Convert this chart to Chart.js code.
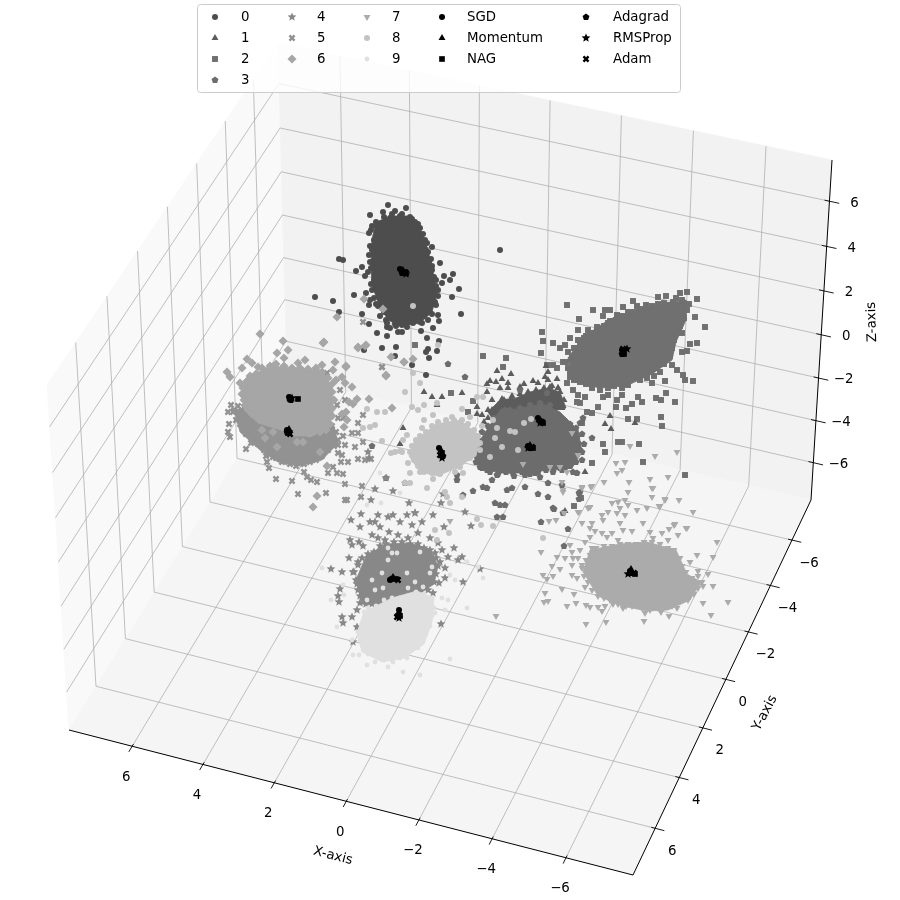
<!DOCTYPE html>
<html>
<head>
<meta charset="utf-8">
<title>Optimizers on clusters</title>
<script src="https://cdn.jsdelivr.net/npm/chart.js@4/dist/chart.umd.min.js"></script>
<style>
body { margin: 0; background: #fff; }
canvas { display: block; }
</style>
</head>
<body>
<canvas id="grafico" width="900" height="900"></canvas>
<script>
const xTicks = [6, 4, 2, 0, -2, -4, -6]
const yTicks = [-6, -4, -2, 0, 2, 4, 6]
const zTicks = [6, 4, 2, 0, -2, -4, -6]

const class0 = [[388,205],[406,208],[395,211],[383,212],[370,215],[418,224],[423,234],[369,233],[377,236],[370,246],[432,247],[427,243],[369,255],[440,263],[431,259],[339,259],[343,260],[362,267],[356,271],[371,268],[378,267],[365,276],[444,276],[453,274],[450,280],[442,283],[434,277],[459,289],[452,297],[438,296],[354,295],[315,297],[333,301],[339,312],[370,300],[369,305],[366,293],[435,302],[429,308],[461,314],[438,315],[439,321],[362,314],[380,316],[369,324],[387,323],[387,327],[407,327],[413,323],[422,323],[433,328],[421,331],[377,333],[387,336],[398,332],[402,332],[427,338],[439,341],[437,351],[428,349],[426,352],[429,358],[382,348],[396,347],[364,350],[395,356],[412,365],[426,375],[500,250],[380,225],[390,218],[400,216],[412,219],[372,226],[375,252],[372,262],[374,280],[372,290],[376,304],[384,312],[425,240],[428,252],[432,270],[436,286],[432,300],[405,323],[395,324]]
const borda0 = [[376,222],[384,217],[392,214],[402,214],[410,217],[415,222],[381,228],[388,224],[405,220],[420,228],[418,236],[424,245],[426,250],[429,262],[432,266],[431,278],[436,280],[438,290],[436,305],[432,314],[428,320],[424,316],[420,322],[414,318],[408,322],[402,325],[396,326],[390,328],[386,320],[382,308],[378,306],[374,298],[371,284],[368,272],[370,262],[372,250],[374,240],[371,230],[377,226]]
const class1 = [[497,371],[511,374],[487,384],[490,381],[496,382],[502,379],[508,383],[524,384],[533,381],[538,383],[548,372],[546,366],[500,388],[508,388],[520,387],[487,392],[548,380],[558,388],[424,392],[432,397],[437,405],[442,397],[462,393],[477,407],[477,414],[482,415],[492,400],[502,399],[511,399],[488,410],[497,415],[507,407],[403,428],[585,472],[610,416],[605,424],[611,429],[635,423],[557,379],[558,388],[545,377],[550,387],[400,444],[565,511]]
const borda1 = [[492,410],[498,405],[504,400],[512,396],[520,394],[528,392],[536,390],[544,388],[552,386],[560,392],[564,400],[562,408],[556,402],[546,398],[536,400],[526,402],[516,404],[488,418],[484,422]]
const class2 = [[567,305],[593,310],[579,319],[605,310],[610,310],[603,316],[578,330],[542,332],[543,341],[553,343],[560,348],[565,345],[570,338],[584,338],[588,330],[597,327],[608,323],[617,315],[623,307],[633,301],[637,306],[646,305],[658,297],[666,296],[680,293],[687,292],[697,299],[689,304],[683,305],[673,302],[695,317],[705,327],[690,344],[697,343],[682,352],[687,351],[682,333],[667,348],[677,370],[683,375],[685,380],[693,381],[665,381],[672,365],[657,368],[652,383],[647,378],[666,393],[675,402],[656,398],[661,400],[661,417],[662,426],[628,419],[637,419],[626,408],[632,404],[642,402],[638,397],[616,407],[617,400],[608,395],[622,395],[603,397],[598,407],[585,397],[578,395],[573,390],[567,383],[570,377],[568,368],[572,358],[557,368],[563,362],[547,365],[553,365],[580,403],[577,402],[587,412],[592,413],[582,423],[685,475],[643,462],[639,444],[622,442],[618,442],[603,444],[605,452],[415,345],[483,356],[506,358],[503,367],[451,393],[473,401],[468,412],[541,353],[592,463],[581,498],[574,506]]
const borda2 = [[575,348],[580,342],[586,336],[592,333],[598,330],[604,326],[610,321],[616,320],[622,316],[628,312],[634,312],[640,309],[646,310],[652,306],[658,304],[664,303],[670,305],[676,298],[682,300],[687,310],[684,318],[680,326],[676,332],[674,340],[672,348],[670,356],[664,364],[660,372],[654,376],[646,372],[640,380],[634,376],[628,385],[622,388],[614,386],[608,388],[600,390],[592,388],[586,384],[580,382],[574,380],[570,372],[566,362],[568,352],[574,348],[578,340]]
const class3 = [[448,364],[465,377],[497,475],[492,480],[512,488],[507,490],[525,487],[513,473],[538,494],[548,497],[553,508],[563,513],[580,492],[579,499],[473,491],[463,495],[457,475],[457,480],[487,488],[483,487],[495,503],[500,505],[505,505],[497,517],[503,517],[577,473],[592,438],[580,423],[583,418],[565,468],[540,477],[525,475],[535,473],[560,468],[553,472],[487,470],[480,467],[477,457],[473,453],[577,437],[578,443],[580,450],[582,460],[573,472],[554,509],[562,485],[579,493],[568,529],[564,546],[541,522],[548,483],[372,446],[386,478],[405,483],[520,390],[547,393],[540,403],[505,410],[495,420],[530,405],[550,405],[565,425]]
const borda3 = [[472,448],[470,456],[476,462],[482,468],[490,472],[498,474],[506,472],[514,476],[522,472],[530,474],[538,472],[546,470],[554,468],[562,470],[570,466],[576,462],[582,452],[584,444],[582,434],[576,428],[570,424],[564,420],[556,414],[548,408],[540,406],[530,408],[520,408],[510,410],[502,412],[494,418],[488,426],[482,432],[478,440],[484,446]]
const class4 = [[351,520],[361,514],[378,515],[360,527],[370,522],[375,522],[380,527],[388,517],[393,515],[400,522],[407,515],[415,513],[412,525],[422,522],[418,533],[433,515],[444,527],[471,526],[389,532],[398,535],[408,538],[372,535],[378,538],[385,540],[350,540],[352,545],[359,542],[363,546],[430,538],[438,543],[442,550],[454,548],[448,557],[462,557],[458,560],[435,553],[440,562],[445,568],[480,569],[349,558],[358,562],[331,569],[342,572],[353,572],[357,584],[340,589],[338,596],[339,602],[362,597],[360,603],[357,610],[342,617],[352,617],[343,623],[357,627],[360,630],[433,593],[439,583],[445,578],[463,582],[441,624],[353,642],[368,645],[386,478],[368,452],[369,458],[393,491],[371,500],[375,489],[409,503],[415,513],[443,494],[441,503],[465,512]]
const borda4 = [[358,565],[362,558],[368,554],[374,552],[380,546],[386,544],[394,542],[402,542],[410,544],[418,544],[424,548],[430,550],[436,558],[438,566],[436,574],[434,582],[428,590],[420,592],[412,596],[404,600],[396,600],[388,604],[380,606],[372,604],[366,604],[360,596],[358,590],[356,580],[354,572]]
const class5 = [[231,405],[228,412],[233,412],[229,424],[228,432],[230,437],[246,449],[251,443],[266,456],[267,462],[269,468],[276,479],[292,481],[298,494],[326,493],[304,472],[307,477],[311,480],[317,482],[328,473],[337,473],[333,467],[341,462],[348,462],[358,459],[365,460],[371,459],[343,474],[345,484],[362,486],[361,497],[345,500],[347,500],[340,390],[337,405],[345,400],[338,418],[343,418],[358,423],[363,415],[358,433],[352,433],[363,442],[343,436],[338,445],[345,445],[355,447],[338,453],[342,455],[382,367],[327,373],[273,457],[288,462],[300,463],[363,322],[382,367]]
const borda5 = [[234,410],[238,406],[244,407],[236,420],[240,424],[246,434],[252,438],[258,444],[264,450],[270,454],[276,458],[282,462],[290,464],[296,466],[304,464],[310,462],[316,460],[322,456],[328,450],[334,446],[338,440],[336,432],[332,426],[240,416],[246,412]]
const class6 = [[260,334],[283,341],[324,342],[346,367],[227,372],[242,368],[247,359],[230,377],[252,363],[258,367],[288,350],[277,353],[284,358],[305,360],[298,363],[322,365],[335,362],[333,370],[342,377],[336,380],[345,383],[352,387],[369,399],[357,399],[349,402],[353,404],[392,408],[346,412],[342,414],[347,420],[344,427],[240,383],[243,395],[358,348],[365,346],[404,362],[386,376],[262,430],[273,432],[265,438],[297,442],[303,442],[277,447],[320,452],[327,466],[317,496],[313,507],[364,299],[383,309],[337,317],[323,343],[358,347],[366,345],[391,357],[413,359],[404,362],[346,366],[386,375]]
const borda6 = [[243,388],[246,382],[250,376],[256,374],[262,368],[270,366],[276,364],[284,366],[292,368],[300,368],[308,369],[316,368],[322,372],[328,378],[332,384],[332,392],[334,400],[332,408],[332,416],[330,424],[326,430],[320,432],[244,400],[242,394],[246,406],[252,414]]
const class7 = [[563,490],[582,488],[592,486],[604,482],[629,482],[652,488],[628,492],[652,497],[612,503],[618,502],[625,500],[628,505],[620,508],[590,507],[588,508],[578,512],[564,513],[617,513],[625,515],[637,510],[647,508],[659,506],[665,500],[679,500],[693,512],[602,515],[608,512],[603,520],[620,523],[582,523],[592,523],[549,521],[556,520],[643,523],[687,528],[675,524],[669,529],[590,528],[595,531],[602,533],[612,533],[623,530],[632,531],[650,532],[662,533],[678,535],[668,540],[653,538],[618,540],[607,537],[590,537],[585,542],[570,545],[580,550],[592,548],[717,542],[713,557],[697,555],[690,562],[572,552],[565,558],[557,557],[573,558],[578,558],[552,566],[560,569],[572,565],[582,565],[572,575],[577,578],[553,576],[543,575],[547,579],[585,587],[562,589],[545,593],[574,594],[544,602],[548,601],[567,606],[576,603],[586,605],[590,607],[598,607],[602,611],[605,606],[613,604],[623,608],[632,606],[645,613],[644,621],[606,622],[586,624],[661,612],[669,616],[677,608],[703,603],[711,615],[728,602],[713,586],[703,586],[708,574],[698,571],[541,552],[630,446],[655,456],[677,452],[616,463],[625,462],[622,470],[617,473],[650,479],[668,477],[653,488],[665,499],[660,506],[686,528],[674,525],[450,521],[496,616],[563,492],[567,472],[562,482],[582,487],[591,487],[590,507],[579,512],[523,464],[572,433],[578,455],[550,467],[560,467]]
const borda7 = [[590,555],[586,560],[582,568],[584,576],[588,582],[592,590],[598,596],[604,598],[610,600],[618,604],[626,606],[634,604],[642,608],[650,610],[658,608],[664,606],[672,606],[680,600],[688,600],[694,594],[698,588],[702,582],[698,576],[692,578],[686,572],[682,566],[680,558],[674,550],[668,548],[660,544],[652,542],[644,542],[636,544],[628,544],[620,544],[612,546],[604,546],[596,548]]
const class8 = [[405,392],[420,383],[412,407],[424,405],[418,410],[437,403],[433,415],[424,420],[422,428],[462,409],[452,417],[448,430],[470,417],[482,426],[477,397],[483,397],[493,420],[497,428],[495,438],[502,447],[490,457],[518,450],[510,431],[515,432],[524,423],[531,419],[407,435],[403,440],[402,452],[408,463],[410,473],[420,472],[432,473],[433,479],[427,488],[410,483],[405,483],[445,492],[447,497],[450,503],[440,473],[463,473],[480,443],[480,450],[473,445],[460,467],[455,472],[462,497],[367,409],[377,412],[385,412],[370,427],[375,425],[363,428],[382,441],[391,453],[395,452],[400,451],[413,306],[438,345],[413,373],[477,519],[481,525],[493,526],[435,530],[449,533],[437,540],[543,538]]
const borda8 = [[416,440],[420,436],[426,432],[432,426],[438,422],[446,420],[454,420],[462,420],[468,424],[474,430],[478,436],[478,444],[474,452],[470,458],[462,462],[456,466],[448,468],[440,474],[432,470],[424,472],[418,466],[414,460],[410,452],[412,446]]
const class9 = [[322,568],[331,600],[337,627],[343,585],[344,595],[352,640],[353,655],[359,655],[367,665],[375,662],[388,667],[393,662],[403,672],[407,658],[418,648],[420,675],[450,659],[435,613],[445,610],[442,598],[448,600],[467,608],[467,562],[483,578],[478,567],[450,575],[455,580],[430,573],[423,587],[397,553],[388,560],[382,573],[375,590],[367,600],[383,588],[388,548],[392,553],[420,552],[432,567],[415,582],[407,573],[408,588],[372,580],[380,473],[367,505],[381,503],[400,493]]
const borda9 = [[364,612],[368,608],[376,606],[384,600],[392,598],[400,598],[408,596],[416,592],[424,594],[432,598],[434,608],[432,616],[430,626],[426,634],[422,642],[414,648],[408,654],[400,658],[392,660],[384,660],[376,656],[368,654],[364,646],[360,640],[358,632],[362,624],[364,618]]

// solid middle of each cloud, where single marks can no longer be told apart
const core0 = [[376,222],[392,216],[408,216],[420,228],[428,250],[433,272],[437,293],[432,312],[420,323],[400,326],[388,320],[379,305],[372,285],[371,262],[372,240]]
const core1 = [[488,412],[500,400],[516,398],[530,392],[548,388],[560,392],[566,408],[540,414],[500,430]]
const core2 = [[586,335],[610,319],[640,309],[667,303],[686,300],[686,320],[676,342],[672,360],[652,374],[626,386],[600,388],[574,382],[568,358],[578,344]]
const core3 = [[498,413],[520,408],[543,404],[560,412],[578,430],[582,452],[572,468],[548,470],[527,473],[500,473],[480,468],[472,453],[484,434]]
const core4 = [[366,556],[386,544],[410,543],[430,549],[438,566],[434,584],[410,600],[382,606],[362,604],[356,580]]
const core5 = [[234,410],[253,406],[283,430],[310,437],[334,426],[338,443],[322,460],[300,466],[278,462],[260,450],[240,432]]
const core6 = [[246,378],[270,366],[297,368],[322,370],[332,388],[333,410],[329,428],[312,436],[293,436],[281,430],[258,423],[244,410],[242,393]]
const core7 = [[590,550],[620,544],[647,542],[676,550],[687,574],[701,582],[690,600],[668,610],[647,611],[622,606],[598,596],[583,572]]
const core8 = [[414,442],[436,424],[460,420],[480,436],[476,456],[458,467],[438,476],[420,472],[409,456]]
const core9 = [[364,612],[392,598],[417,591],[434,598],[432,622],[424,644],[404,658],[382,662],[362,652],[357,633]]

const sgd = [[400,269],[538,418],[622,350],[528,446],[390,580],[287,430],[289,397],[630,571],[439,448],[399,610]]
const momentum = [[403,270],[539,420],[623,352],[530,445],[393,577],[289,429],[290,398],[631,569],[441,450],[399,612]]
const nag = [[405,272],[543,423],[624,354],[533,448],[396,579],[288,433],[298,399],[635,574],[442,453],[400,616]]
const adagrad = [[402,273],[541,421],[622,354],[530,448],[391,579],[287,432],[291,400],[632,573],[443,456],[398,615]]
const rmsprop = [[406,274],[540,423],[627,349],[528,448],[394,579],[289,432],[292,398],[628,574],[442,458],[399,618]]
const adam = [[406,273],[542,422],[623,349],[532,447],[398,580],[290,434],[290,399],[634,573],[440,455],[397,617]]

// pane corners
const cantoA = [69,730], cantoB = [633,875], cantoC = [811,500], cantoD = [287,378]
const topoA = [47,385], topoC = [832,160], topoD = [278,43]
const limite = 7.8

function sprite(forma, cor, lado) {
	let c = document.createElement('canvas')
	c.width = c.height = lado
	let g = c.getContext('2d')
	let m = lado / 2
	g.fillStyle = cor
	g.beginPath()
	if (forma == 'pentagon') {
		for (let i = 0; i < 5; i++) {
			let a = -Math.PI / 2 + i * 2 * Math.PI / 5
			g.lineTo(m + 3.6 * Math.cos(a), m + 3.6 * Math.sin(a))
		}
	}
	if (forma == 'star') {
		for (let i = 0; i < 10; i++) {
			let a = -Math.PI / 2 + i * Math.PI / 5
			let r = i % 2 ? 2.1 : 4.6
			g.lineTo(m + r * Math.cos(a), m + r * Math.sin(a))
		}
	}
	if (forma == 'x') {
		let p = [[-1,-.5],[-.5,-1],[0,-.5],[.5,-1],[1,-.5],[.5,0],[1,.5],[.5,1],[0,.5],[-.5,1],[-1,.5],[-.5,0]]
		p.forEach(q => g.lineTo(m + q[0] * 3.4, m + q[1] * 3.4))
	}
	g.closePath()
	g.fill()
	return c
}

const classes = [
	{ nome: '0', pts: class0.concat(borda0), core: core0, cor: '#4d4d4d', estilo: 'circle', raio: 3 },
	{ nome: '1', pts: class1.concat(borda1), core: core1, cor: '#5c5c5c', estilo: 'triangle', raio: 4 },
	{ nome: '2', pts: class2.concat(borda2), core: core2, cor: '#707070', estilo: 'rect', raio: 4.2 },
	{ nome: '3', pts: class3.concat(borda3), core: core3, cor: '#6c6c6c', estilo: sprite('pentagon', '#6c6c6c', 8), raio: 4 },
	{ nome: '4', pts: class4.concat(borda4), core: core4, cor: '#888888', estilo: sprite('star', '#888888', 10), raio: 5 },
	{ nome: '5', pts: class5.concat(borda5), core: core5, cor: '#929292', estilo: sprite('x', '#929292', 8), raio: 4 },
	{ nome: '6', pts: class6.concat(borda6), core: core6, cor: '#a6a6a6', estilo: 'rectRot', raio: 4.5 },
	{ nome: '7', pts: class7.concat(borda7), core: core7, cor: '#ababab', estilo: 'triangle', raio: 4, giro: 180 },
	{ nome: '8', pts: class8.concat(borda8), core: core8, cor: '#c3c3c3', estilo: 'circle', raio: 3 },
	{ nome: '9', pts: class9.concat(borda9), core: core9, cor: '#e0e0e0', estilo: 'circle', raio: 2.4 }
]
const otimizadores = [
	{ nome: 'SGD', pts: sgd, estilo: 'circle', raio: 3 },
	{ nome: 'Momentum', pts: momentum, estilo: 'triangle', raio: 4 },
	{ nome: 'NAG', pts: nag, estilo: 'rect', raio: 4 },
	{ nome: 'Adagrad', pts: adagrad, estilo: sprite('pentagon', '#000', 8), raio: 4 },
	{ nome: 'RMSProp', pts: rmsprop, estilo: sprite('star', '#000', 10), raio: 5 },
	{ nome: 'Adam', pts: adam, estilo: sprite('x', '#000', 8), raio: 4 }
]
otimizadores.forEach(o => o.cor = '#000')

// maps the unit square on a 4 corner face of the box (perspective)
function face(p00, p10, p11, p01) {
	let dx1 = p10[0] - p11[0], dx2 = p01[0] - p11[0], sx = p00[0] - p10[0] + p11[0] - p01[0]
	let dy1 = p10[1] - p11[1], dy2 = p01[1] - p11[1], sy = p00[1] - p10[1] + p11[1] - p01[1]
	let det = dx1 * dy2 - dx2 * dy1
	let g = (sx * dy2 - dx2 * sy) / det
	let h = (dx1 * sy - sx * dy1) / det
	let a = p10[0] - p00[0] + g * p10[0], b = p01[0] - p00[0] + h * p01[0]
	let d = p10[1] - p00[1] + g * p10[1], e = p01[1] - p00[1] + h * p01[1]
	return (u, v) => {
		let w = g * u + h * v + 1
		return [(a * u + b * v + p00[0]) / w, (d * u + e * v + p00[1]) / w]
	}
}
const piso = face(cantoA, cantoB, cantoC, cantoD)
const esquerda = face(cantoA, cantoD, topoD, topoA)
const fundo = face(cantoD, cantoC, topoC, topoD)

const posX = x => (limite - x) / (2 * limite)
const posY = y => (limite - y) / (2 * limite)
const posZ = z => (z + limite) / (2 * limite)

const xy = lista => lista.map(p => ({ x: p[0], y: p[1] }))

let ds = []

function poligono(pontos, cor) {
	ds.push({ type: 'line', data: xy(pontos.concat([pontos[0]])), fill: 'shape', backgroundColor: cor,
		borderColor: cor, borderWidth: 0.8, pointRadius: 0 })
}
function linha(a, b, cor, largura) {
	ds.push({ type: 'line', data: xy([a, b]), fill: false, borderColor: cor, borderWidth: largura, pointRadius: 0 })
}
function pontos(c) {
	ds.push({ type: 'scatter', data: xy(c.pts), backgroundColor: c.cor, pointStyle: c.estilo, pointRadius: c.raio,
		pointRotation: c.giro || 0, pointBorderWidth: 0, showLine: false })
}

poligono([cantoA, cantoD, topoD, topoA], '#f9f9f9')
poligono([cantoD, cantoC, topoC, topoD], '#f2f2f2')
poligono([cantoA, cantoB, cantoC, cantoD], '#f5f5f5')

const corGrade = '#b0b0b0'
xTicks.forEach(t => {
	linha(piso(posX(t), 0), piso(posX(t), 1), corGrade, 0.8)
	linha(fundo(posX(t), 0), fundo(posX(t), 1), corGrade, 0.8)
})
yTicks.forEach(t => {
	linha(piso(0, posY(t)), piso(1, posY(t)), corGrade, 0.8)
	linha(esquerda(posY(t), 0), esquerda(posY(t), 1), corGrade, 0.8)
})
zTicks.forEach(t => {
	linha(esquerda(0, posZ(t)), esquerda(1, posZ(t)), corGrade, 0.8)
	linha(fundo(0, posZ(t)), fundo(1, posZ(t)), corGrade, 0.8)
})

// axis lines and their tick marks
linha(cantoA, cantoB, '#000', 1)
linha(cantoB, cantoC, '#000', 1)
linha(cantoC, topoC, '#000', 1)

function marca(p, de, dentro, fora) {
	let dx = p[0] - de[0], dy = p[1] - de[1], n = Math.hypot(dx, dy)
	dx /= n; dy /= n
	linha([p[0] - dx * dentro, p[1] - dy * dentro], [p[0] + dx * fora, p[1] + dy * fora], '#000', 0.9)
}
const tickX = xTicks.map(t => piso(posX(t), 0))
const tickY = yTicks.map(t => piso(1, posY(t)))
const tickZ = zTicks.map(t => fundo(1, posZ(t)))
xTicks.forEach((t, i) => marca(tickX[i], piso(posX(t), 1), 2.5, 6.5))
yTicks.forEach((t, i) => marca(tickY[i], piso(0, posY(t)), 4, 9.5))
zTicks.forEach((t, i) => marca(tickZ[i], fundo(0, posZ(t)), 5, 10))

// back to front, as the clouds cover each other in the picture
const ordem = [0, 2, 1, 3, 5, 6, 4, 9, 7, 8]
ordem.forEach(i => {
	poligono(classes[i].core, classes[i].cor)
	pontos(classes[i])
})
otimizadores.forEach(o => pontos(o))

ds.forEach((d, i) => d.order = ds.length - i)

const fonte = '13.33px "DejaVu Sans"'
const menos = t => String(t).replace('-', '\u2212')

const textos = {
	id: 'textos',
	afterDraw(chart) {
		let ctx = chart.ctx
		let sx = chart.scales.x, sy = chart.scales.y
		let px = p => sx.getPixelForValue(p), py = p => sy.getPixelForValue(p)
		ctx.save()
		ctx.font = fonte
		ctx.fillStyle = '#000'
		ctx.textAlign = 'center'
		ctx.textBaseline = 'middle'
		xTicks.forEach((t, i) => ctx.fillText(menos(t), px(tickX[i][0] - 6), py(tickX[i][1] + 31)))
		yTicks.forEach((t, i) => ctx.fillText(menos(t), px(tickY[i][0] + 17), py(tickY[i][1] + 23)))
		zTicks.forEach((t, i) => ctx.fillText(menos(t), px(tickZ[i][0] + 25), py(tickZ[i][1] + 2)))

		let rotulo = (s, x, y, graus) => {
			ctx.save()
			ctx.translate(px(x), py(y))
			ctx.rotate(graus * Math.PI / 180)
			ctx.fillText(s, 0, 0)
			ctx.restore()
		}
		rotulo('X-axis', 333, 856, 14.5)
		rotulo('Y-axis', 765, 713, -62)
		rotulo('Z-axis', 872, 322, -92)

		// legend box, filled by columns like the original
		ctx.beginPath()
		ctx.roundRect(197.5, 4.5, 483, 88, 3)
		ctx.fillStyle = 'rgba(255,255,255,0.8)'
		ctx.fill()
		ctx.strokeStyle = '#cccccc'
		ctx.lineWidth = 1
		ctx.stroke()

		let colunas = [[215, 241], [292, 317], [367, 392], [442, 467], [586, 613]]
		let linhas = [17, 38, 59, 80]
		let itens = classes.concat(otimizadores)
		let porColuna = [4, 3, 3, 3, 3]
		let k = 0
		ctx.textAlign = 'left'
		colunas.forEach((c, ci) => {
			for (let r = 0; r < porColuna[ci]; r++) {
				let it = itens[k++]
				ctx.fillStyle = it.cor
				Chart.helpers.drawPoint(ctx, { pointStyle: it.estilo, rotation: it.giro || 0, radius: it.raio, borderWidth: 0 }, c[0], linhas[r])
				ctx.fillStyle = '#000'
				ctx.fillText(it.nome, c[1], linhas[r] + 1)
			}
		})
		ctx.restore()
	}
}

new Chart(document.getElementById('grafico').getContext('2d'), {
	type: 'scatter',
	data: { datasets: ds },
	options: {
		responsive: false,
		animation: false,
		events: [],
		plugins: { legend: { display: false }, tooltip: { enabled: false } },
		layout: { padding: 0, autoPadding: false },
		scales: {
			x: { type: 'linear', min: 0, max: 900, display: false },
			y: { type: 'linear', min: 0, max: 900, reverse: true, display: false }
		}
	},
	plugins: [textos]
})
</script>
</body>
</html>
